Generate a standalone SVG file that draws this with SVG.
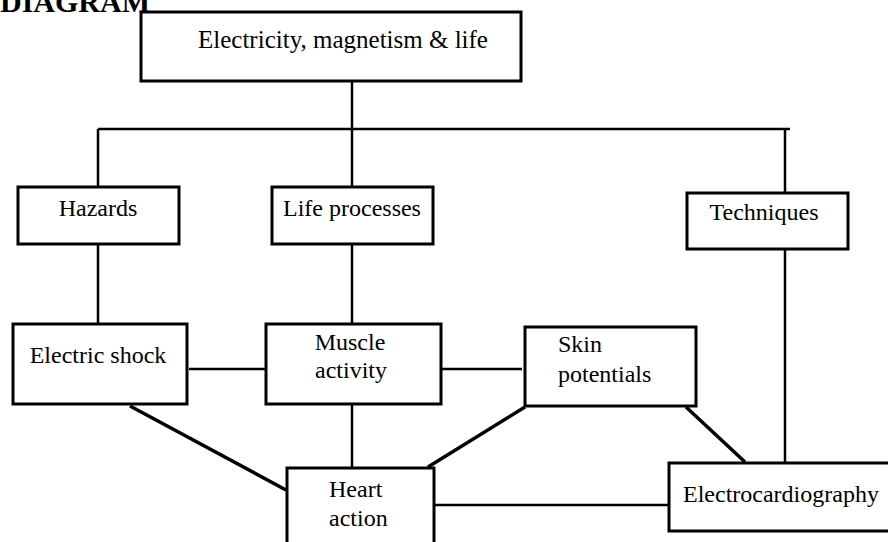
<svg xmlns="http://www.w3.org/2000/svg" width="888" height="542" viewBox="0 0 888 542">
<style>
.box{fill:#fff;stroke:#000;stroke-width:3}
.ln{stroke:#000;stroke-width:2.5;fill:none}
.dg{stroke:#000;stroke-width:3.5;fill:none}
text{font-family:"Liberation Serif","Times New Roman",serif;font-size:24px;fill:#000}
.c{text-anchor:middle}
</style>
<rect width="888" height="542" fill="#fff"/>
<text x="150" y="12" style="font-weight:bold;font-size:30px;text-anchor:end">DIAGRAM</text>
<g id="connectors">
<line class="ln" x1="352" y1="81" x2="352" y2="129"/>
<line class="ln" x1="98" y1="129" x2="790" y2="129"/>
<line class="ln" x1="98" y1="129" x2="98" y2="187"/>
<line class="ln" x1="352" y1="129" x2="352" y2="187"/>
<line class="ln" x1="785" y1="129" x2="785" y2="193"/>
<line class="ln" x1="98" y1="244" x2="98" y2="324"/>
<line class="ln" x1="352" y1="244" x2="352" y2="324"/>
<line class="ln" x1="785" y1="249" x2="785" y2="463"/>
<line class="ln" x1="189" y1="369" x2="265" y2="369"/>
<line class="ln" x1="442" y1="369" x2="522" y2="369"/>
<line class="ln" x1="352" y1="404" x2="352" y2="468"/>
<line class="dg" x1="130" y1="406" x2="286" y2="490"/>
<line class="dg" x1="525" y1="407" x2="428" y2="467"/>
<line class="dg" x1="686" y1="407" x2="745" y2="462"/>
<line class="ln" x1="434" y1="505" x2="669" y2="505"/>
</g>
<g id="top">
<rect class="box" x="141" y="12" width="380" height="69"/>
<text class="c" x="343" y="48" style="font-size:25px">Electricity, magnetism &amp; life</text>
</g>
<g id="hazards">
<rect class="box" x="18" y="187" width="161" height="57"/>
<text class="c" x="98" y="216">Hazards</text>
</g>
<g id="life">
<rect class="box" x="272" y="187" width="161" height="57"/>
<text class="c" x="352" y="216">Life processes</text>
</g>
<g id="techniques">
<rect class="box" x="687" y="193" width="161" height="56"/>
<text class="c" x="764" y="220">Techniques</text>
</g>
<g id="shock">
<rect class="box" x="13" y="324" width="174" height="80"/>
<text class="c" x="98" y="363">Electric shock</text>
</g>
<g id="muscle">
<rect class="box" x="266" y="324" width="175" height="80"/>
<text class="c" x="350" y="350">Muscle</text>
<text class="c" x="351" y="378">activity</text>
</g>
<g id="skin">
<rect class="box" x="525" y="327" width="171" height="79"/>
<text x="558" y="352">Skin</text>
<text x="558" y="382">potentials</text>
</g>
<g id="heart">
<rect class="box" x="287" y="468" width="147" height="90"/>
<text x="329" y="497">Heart</text>
<text x="329" y="526">action</text>
</g>
<g id="ecg">
<rect class="box" x="669" y="463" width="240" height="68"/>
<text x="683" y="502">Electrocardiography</text>
</g>
</svg>
